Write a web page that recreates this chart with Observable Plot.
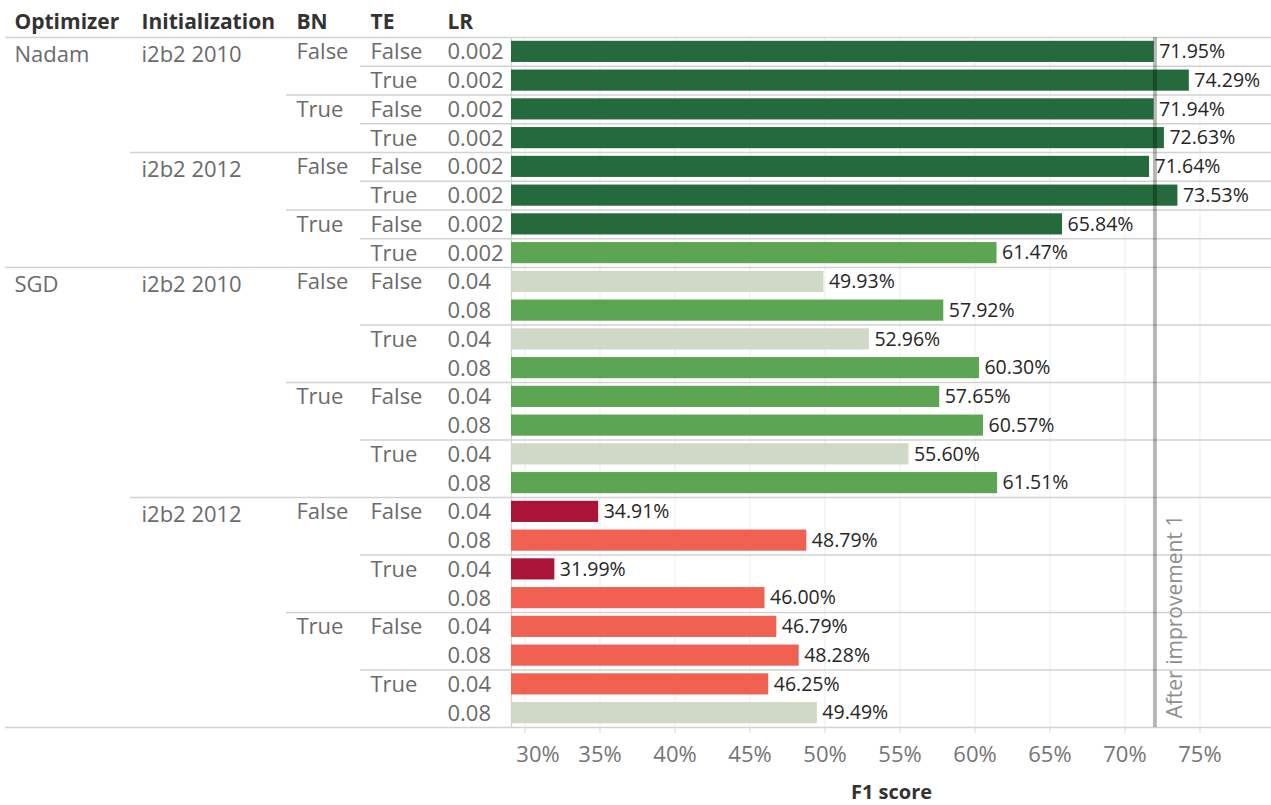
<!DOCTYPE html>
<html>
<head>
<meta charset="utf-8">
<script src="https://cdn.jsdelivr.net/npm/d3@7"></script>
<script src="https://cdn.jsdelivr.net/npm/@observablehq/plot@0.6"></script>
<style>
  html, body { margin: 0; padding: 0; background: #fff; }
  #chart svg { display: block; }
</style>
</head>
<body>
<div id="chart"></div>
<script>
// ---- Data ----
const headers = ["Optimizer", "Initialization", "BN", "TE", "LR"];
const optimizers = ["Nadam","Nadam","Nadam","Nadam","Nadam","Nadam","Nadam","Nadam",
  "SGD","SGD","SGD","SGD","SGD","SGD","SGD","SGD","SGD","SGD","SGD","SGD","SGD","SGD","SGD","SGD"];
const inits = ["i2b2 2010","i2b2 2010","i2b2 2010","i2b2 2010","i2b2 2012","i2b2 2012","i2b2 2012","i2b2 2012",
  "i2b2 2010","i2b2 2010","i2b2 2010","i2b2 2010","i2b2 2010","i2b2 2010","i2b2 2010","i2b2 2010",
  "i2b2 2012","i2b2 2012","i2b2 2012","i2b2 2012","i2b2 2012","i2b2 2012","i2b2 2012","i2b2 2012"];
const bns = ["False","False","True","True","False","False","True","True",
  "False","False","False","False","True","True","True","True",
  "False","False","False","False","True","True","True","True"];
const tes = ["False","True","False","True","False","True","False","True",
  "False","False","True","True","False","False","True","True",
  "False","False","True","True","False","False","True","True"];
const lrs = ["0.002","0.002","0.002","0.002","0.002","0.002","0.002","0.002",
  "0.04","0.08","0.04","0.08","0.04","0.08","0.04","0.08",
  "0.04","0.08","0.04","0.08","0.04","0.08","0.04","0.08"];
const f1 = [71.95, 74.29, 71.94, 72.63, 71.64, 73.53, 65.84, 61.47,
  49.93, 57.92, 52.96, 60.30, 57.65, 60.57, 55.60, 61.51,
  34.91, 48.79, 31.99, 46.00, 46.79, 48.28, 46.25, 49.49];
const xTicks = [30, 35, 40, 45, 50, 55, 60, 65, 70, 75];
const refValue = 72;
const refLabel = "After improvement 1";
const xLabel = "F1 score";

// ---- Build table ----
const keys = ["optimizer", "init", "bn", "te"];
const rows = f1.map((v, i) => ({
  i, optimizer: optimizers[i], init: inits[i], bn: bns[i], te: tes[i], lr: lrs[i], f1: v
}));
rows.forEach((r, i) => {
  if (i === 0) { r.level = 0; return; }
  const p = rows[i - 1];
  let l = 4;
  for (let k = 0; k < keys.length; k++) { if (r[keys[k]] !== p[keys[k]]) { l = k; break; } }
  r.level = l;
});
const boundaries = rows.filter(r => r.level < 4).map(r => ({y: r.i, level: r.level}));
boundaries.push({y: rows.length, level: 0});

// ---- Layout constants ----
const W = 1271, H = 805;
const mLeft = 511, mTop = 37, mBottom = 78, mRight = 0;
const colX = [14, 141, 296, 370, 447];
const ruleStart = [5, 130, 286, 360];
const xDomain = [29.1, 79.77];
const lineColor = "#d2d2d2";
const font = "'Open Sans', 'DejaVu Sans', sans-serif";

const marks = [];
// vertical grid
marks.push(Plot.gridX(xTicks, {stroke: "#ececec", strokeOpacity: 1, strokeWidth: 1}));
// row separators
for (let L = 0; L < 4; L++) {
  marks.push(Plot.ruleY(boundaries.filter(b => b.level === L), {
    y: "y", stroke: lineColor, strokeWidth: 1.3, insetLeft: ruleStart[L] - mLeft
  }));
}
// vertical separator between table and bars
marks.push(Plot.ruleX([xDomain[0]], {stroke: lineColor, strokeWidth: 1.3}));
// bars
marks.push(Plot.rectX(rows, {
  x: "f1", y1: "i", y2: d => d.i + 1, fill: "f1", insetTop: 3.8, insetBottom: 3.8, clip: true
}));
// reference line
marks.push(Plot.ruleX([refValue], {stroke: "#000", strokeOpacity: 0.28, strokeWidth: 4}));
marks.push(Plot.text([refValue], {
  x: d => d, frameAnchor: "bottom", rotate: -90, textAnchor: "start", lineAnchor: "middle",
  text: () => refLabel, dx: 20, dy: -9, fontSize: 21, fill: "#8f8f8f"
}));
// value labels
marks.push(Plot.text(rows, {
  x: "f1", y: d => d.i + 0.5, text: d => d.f1.toFixed(2) + "%",
  textAnchor: "start", dx: 5, fontSize: 19.5, fill: "#262626"
}));
// table columns
const cols = ["optimizer", "init", "bn", "te", "lr"];
cols.forEach((c, k) => {
  marks.push(Plot.text(rows.filter(r => k === 4 || r.level <= k), {
    y: d => d.i + 0.5, text: c, frameAnchor: "left", textAnchor: "start", lineAnchor: "middle",
    dx: colX[k] - mLeft, dy: k < 2 ? 3 : 0.5, fontSize: 22, fill: "#6b6b6b"
  }));
});
// headers
headers.forEach((h, k) => {
  marks.push(Plot.text([h], {
    text: d => d, frameAnchor: "top-left", textAnchor: "start", lineAnchor: "middle",
    dx: colX[k] - mLeft, dy: -15, fontSize: 21, fontWeight: "bold", fill: "#333"
  }));
});
// x axis ticks
marks.push(Plot.axisX(xTicks, {tickSize: 6, fill: "none", stroke: "#d9d9d9", label: null}));
// x tick labels
marks.push(Plot.text(xTicks.slice(0, 1), {
  x: d => d, frameAnchor: "bottom", lineAnchor: "middle", text: d => d + "%",
  dy: 27, dx: 13, fontSize: 22, fill: "#757575"
}));
marks.push(Plot.text(xTicks.slice(1), {
  x: d => d, frameAnchor: "bottom", lineAnchor: "middle", text: d => d + "%",
  dy: 27, fontSize: 22, fill: "#757575"
}));
// x axis title
marks.push(Plot.text([xLabel], {
  text: d => d, frameAnchor: "bottom", lineAnchor: "middle",
  dy: 65, fontSize: 20, fontWeight: "bold", fill: "#333"
}));

const chart = Plot.plot({
  width: W, height: H,
  marginLeft: mLeft, marginRight: mRight, marginTop: mTop, marginBottom: mBottom,
  style: {fontFamily: font, background: "#fff", overflow: "visible"},
  x: {domain: xDomain, axis: null},
  y: {domain: [0, rows.length], reverse: true, axis: null},
  color: {type: "threshold", domain: [40, 49, 56, 64],
          range: ["#ab1439", "#f16152", "#d0d8c6", "#5ca553", "#246a3c"]},
  marks
});
document.getElementById("chart").appendChild(chart);
</script>
</body>
</html>
